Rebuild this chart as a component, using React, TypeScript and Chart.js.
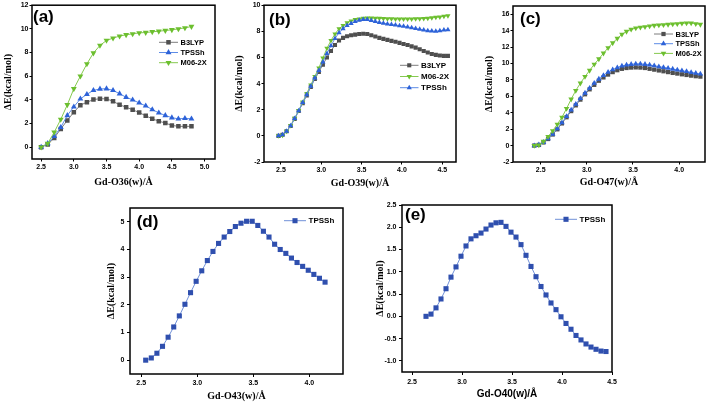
import React, { useEffect, useRef } from 'react';
import { Chart, registerables } from 'chart.js';
Chart.register(...registerables);

// ---------- DATA ----------
// (a) Gd-O36(w)
const xA = [2.5, 2.6, 2.7, 2.8, 2.9, 3.0, 3.1, 3.2, 3.3, 3.4, 3.5, 3.6, 3.7, 3.8, 3.9, 4.0, 4.1, 4.2, 4.3, 4.4, 4.5, 4.6, 4.7, 4.8];
const aB3LYP = [0, 0.22, 0.78, 1.54, 2.26, 2.96, 3.55, 3.8, 4.02, 4.1, 4.08, 3.88, 3.58, 3.38, 3.16, 2.93, 2.65, 2.4, 2.2, 2.04, 1.84, 1.76, 1.76, 1.76];
const aTPSSh = [0, 0.31, 0.92, 1.68, 2.68, 3.41, 4.08, 4.47, 4.8, 4.92, 4.94, 4.8, 4.52, 4.22, 4.0, 3.74, 3.49, 3.18, 2.9, 2.68, 2.49, 2.4, 2.43, 2.4];
const aM062X = [0, 0.31, 1.26, 2.35, 3.58, 4.94, 6.0, 7.04, 7.96, 8.6, 9.02, 9.22, 9.39, 9.5, 9.58, 9.66, 9.69, 9.75, 9.8, 9.86, 9.92, 10.0, 10.08, 10.2];
const aTicksX = [2.5, 3.0, 3.5, 4.0, 4.5, 5.0];
const aTicksY = [0, 2, 4, 6, 8, 10, 12];

// (b) Gd-O39(w)
const xB = [2.47, 2.52, 2.57, 2.62, 2.67, 2.72, 2.77, 2.82, 2.87, 2.92, 2.97, 3.02, 3.07, 3.12, 3.17, 3.22, 3.27, 3.32, 3.37, 3.42, 3.47, 3.52, 3.57, 3.62, 3.67, 3.72, 3.77, 3.82, 3.87, 3.92, 3.97, 4.02, 4.07, 4.12, 4.17, 4.22, 4.27, 4.32, 4.37, 4.42, 4.47, 4.52, 4.57];
const bB3LYP = [0, 0.08, 0.35, 0.75, 1.3, 1.9, 2.5, 3.1, 3.75, 4.35, 4.9, 5.45, 6.0, 6.5, 6.95, 7.3, 7.5, 7.62, 7.7, 7.75, 7.8, 7.82, 7.8, 7.7, 7.6, 7.5, 7.42, 7.35, 7.27, 7.2, 7.12, 7.03, 6.95, 6.85, 6.75, 6.63, 6.5, 6.38, 6.27, 6.2, 6.15, 6.12, 6.12];
const bM062X = [0, 0.05, 0.35, 0.8, 1.35, 1.95, 2.6, 3.25, 3.9, 4.55, 5.2, 5.95, 6.7, 7.3, 7.8, 8.2, 8.45, 8.65, 8.8, 8.9, 8.95, 9.0, 9.02, 9.02, 9.0, 9.0, 8.98, 8.97, 8.96, 8.95, 8.95, 8.95, 8.95, 8.95, 8.96, 8.97, 8.98, 9.0, 9.03, 9.07, 9.1, 9.15, 9.2];
const bTPSSh = [0, 0.08, 0.35, 0.78, 1.32, 1.92, 2.55, 3.15, 3.8, 4.42, 5.0, 5.65, 6.3, 6.9, 7.45, 7.9, 8.2, 8.45, 8.6, 8.75, 8.85, 8.9, 8.9, 8.82, 8.75, 8.68, 8.62, 8.57, 8.52, 8.48, 8.43, 8.38, 8.33, 8.28, 8.22, 8.15, 8.1, 8.05, 8.02, 8.0, 8.05, 8.1, 8.12];
const bTicksX = [2.5, 3.0, 3.5, 4.0, 4.5];
const bTicksY = [-2, 0, 2, 4, 6, 8, 10];

// (c) Gd-O47(w)
const xC = [2.43, 2.48, 2.53, 2.58, 2.63, 2.68, 2.73, 2.78, 2.83, 2.88, 2.93, 2.98, 3.03, 3.08, 3.13, 3.18, 3.23, 3.28, 3.33, 3.38, 3.43, 3.48, 3.53, 3.58, 3.63, 3.68, 3.73, 3.78, 3.83, 3.88, 3.93, 3.98, 4.03, 4.08, 4.13, 4.18, 4.23];
const cB3LYP = [0, 0.08, 0.38, 0.8, 1.35, 1.98, 2.7, 3.45, 4.2, 4.9, 5.6, 6.25, 6.85, 7.4, 7.9, 8.3, 8.65, 8.95, 9.18, 9.35, 9.45, 9.5, 9.52, 9.5, 9.45, 9.35, 9.25, 9.15, 9.05, 8.95, 8.85, 8.77, 8.68, 8.6, 8.52, 8.45, 8.4];
const cTPSSh = [0, 0.1, 0.4, 0.85, 1.4, 2.05, 2.8, 3.55, 4.35, 5.05, 5.75, 6.4, 7.0, 7.6, 8.1, 8.55, 8.95, 9.25, 9.5, 9.7, 9.82, 9.9, 9.95, 9.95, 9.9, 9.82, 9.72, 9.62, 9.52, 9.42, 9.32, 9.22, 9.12, 9.02, 8.92, 8.82, 8.72];
const cM062X = [0, 0.05, 0.5, 1.1, 1.8, 2.6, 3.45, 4.5, 5.65, 6.7, 7.6, 8.4, 9.15, 9.9, 10.55, 11.25, 11.9, 12.5, 13.05, 13.55, 13.9, 14.15, 14.3, 14.4, 14.47, 14.55, 14.63, 14.67, 14.7, 14.75, 14.8, 14.84, 14.88, 14.92, 14.92, 14.84, 14.75];
const cTicksX = [2.5, 3.0, 3.5, 4.0];
const cTicksY = [-2, 0, 2, 4, 6, 8, 10, 12, 14, 16];

// (d) Gd-O43(w)
const xD = [2.54, 2.59, 2.64, 2.69, 2.74, 2.79, 2.84, 2.89, 2.94, 2.99, 3.04, 3.09, 3.14, 3.19, 3.24, 3.29, 3.34, 3.39, 3.44, 3.49, 3.54, 3.59, 3.64, 3.69, 3.74, 3.79, 3.84, 3.89, 3.94, 3.99, 4.04, 4.09, 4.14];
const dTPSSh = [0, 0.08, 0.25, 0.5, 0.83, 1.2, 1.6, 2.02, 2.44, 2.85, 3.23, 3.6, 3.93, 4.22, 4.45, 4.65, 4.83, 4.95, 5.02, 5.02, 4.87, 4.66, 4.45, 4.19, 4.0, 3.86, 3.69, 3.53, 3.39, 3.25, 3.1, 2.96, 2.82];
const dTicksX = [2.5, 3.0, 3.5, 4.0];
const dTicksY = [0, 1, 2, 3, 4, 5];

// (e) Gd-O40(w)
const xE = [2.64, 2.69, 2.74, 2.79, 2.84, 2.89, 2.94, 2.99, 3.04, 3.09, 3.14, 3.19, 3.24, 3.29, 3.34, 3.39, 3.44, 3.49, 3.54, 3.59, 3.64, 3.69, 3.74, 3.79, 3.84, 3.89, 3.94, 3.99, 4.04, 4.09, 4.14, 4.19, 4.24, 4.29, 4.34, 4.39, 4.44];
const eTPSSh = [0, 0.05, 0.19, 0.39, 0.62, 0.88, 1.11, 1.35, 1.58, 1.74, 1.81, 1.87, 1.96, 2.05, 2.1, 2.11, 2.02, 1.89, 1.78, 1.61, 1.37, 1.12, 0.89, 0.67, 0.48, 0.3, 0.15, -0.01, -0.16, -0.29, -0.43, -0.53, -0.62, -0.69, -0.74, -0.78, -0.79];
const eTicksX = [2.5, 3.0, 3.5, 4.0, 4.5];
const eTicksY = [-1.0, -0.5, 0.0, 0.5, 1.0, 1.5, 2.0, 2.5];

// ---------- STYLES ----------
const SANS = 'Arial, "Liberation Sans", sans-serif';
const SERIF = '"Times New Roman", "Liberation Serif", serif';
const GRAY = { line: '#7d7d7d', fill: '#4f4f4f' };
const BLUE = { line: '#5d8ce6', fill: '#2d62d8' };
const GREEN = { line: '#86c94f', fill: '#6cbf2f' };
const DBLUE = { line: '#7090d8', fill: '#2f4fae' };

type Style = 'sq' | 'up' | 'down';
interface Ser { label: string; x: number[]; y: number[]; style: Style; c: { line: string; fill: string }; r: number }
interface Cfg {
  L: number; T: number; R: number; B: number; // plot area in page coords
  ml: number; mt: number; mr: number; mb: number;
  xmin: number; xmax: number; ymin: number; ymax: number;
  xt: number[]; yt: number[]; xdec: number; ydec: number;
  xtitle: string; xtitleFont: string; ytitlePad: number; xtitlePad: number;
  tl: number; ytPad: number; xtPad: number;
  series: Ser[];
  tag: string; tagX: number; tagY: number;
  legX: number; legY: number; legDy: number; legLen: number; legFont: number;
}

function drawMarker(ctx: CanvasRenderingContext2D, style: Style, x: number, y: number, r: number, color: string) {
  ctx.save();
  ctx.fillStyle = color;
  ctx.beginPath();
  if (style === 'sq') {
    const s = r * Math.SQRT1_2;
    ctx.rect(x - s, y - s, 2 * s, 2 * s);
  } else {
    let a = style === 'down' ? Math.PI : 0;
    for (let k = 0; k < 3; k++) {
      const px = x + Math.sin(a) * r;
      const py = y - Math.cos(a) * r;
      if (k === 0) ctx.moveTo(px, py); else ctx.lineTo(px, py);
      a += (2 * Math.PI) / 3;
    }
    ctx.closePath();
  }
  ctx.fill();
  ctx.restore();
}

function Panel({ cfg }: { cfg: Cfg }) {
  const ref = useRef<HTMLCanvasElement>(null);
  const cl = cfg.L - cfg.ml;
  const ct = cfg.T - cfg.mt;
  const w = cfg.R - cfg.L + cfg.ml + cfg.mr;
  const h = cfg.B - cfg.T + cfg.mt + cfg.mb;
  useEffect(() => {
    const c = cfg;
    const n = c.series.length;
    const overlay = {
      id: 'overlay',
      afterDraw(chart: any) {
        const ctx: CanvasRenderingContext2D = chart.ctx;
        const a = chart.chartArea;
        ctx.save();
        ctx.strokeStyle = '#000';
        ctx.lineWidth = 1.5;
        ctx.strokeRect(a.left, a.top, a.right - a.left, a.bottom - a.top);
        // panel tag
        ctx.fillStyle = '#000';
        ctx.font = `bold 17px ${SANS}`;
        ctx.textAlign = 'left';
        ctx.textBaseline = 'middle';
        ctx.fillText(c.tag, c.tagX - cl, c.tagY - ct);
        // legend
        ctx.font = `bold ${c.legFont}px ${SANS}`;
        c.series.forEach((s, i) => {
          const y = c.legY - ct + i * c.legDy;
          const x0 = c.legX - cl;
          ctx.strokeStyle = s.c.line;
          ctx.lineWidth = 1;
          ctx.beginPath();
          ctx.moveTo(x0, y);
          ctx.lineTo(x0 + c.legLen, y);
          ctx.stroke();
          drawMarker(ctx, s.style, x0 + c.legLen / 2, y, s.r, s.c.fill);
          ctx.fillStyle = '#000';
          ctx.fillText(s.label, x0 + c.legLen + 2.5, y + 0.5);
        });
        ctx.restore();
      },
    };
    const chart = new Chart(ref.current!, {
      type: 'line',
      data: {
        datasets: c.series.map((s, i) => ({
          label: s.label,
          data: s.x.map((x, k) => ({ x, y: s.y[k] })),
          borderColor: s.c.line,
          borderWidth: 1,
          backgroundColor: s.c.fill,
          pointBackgroundColor: s.c.fill,
          pointBorderColor: s.c.fill,
          pointBorderWidth: 0,
          pointStyle: s.style === 'sq' ? 'rect' : 'triangle',
          pointRotation: s.style === 'down' ? 180 : 0,
          pointRadius: s.r,
          tension: 0,
          order: n - i,
        })),
      },
      options: {
        responsive: false,
        maintainAspectRatio: false,
        animation: false,
        events: [],
        layout: { padding: { top: c.mt, right: c.mr, left: 0, bottom: 0 } },
        plugins: { legend: { display: false }, tooltip: { enabled: false } },
        scales: {
          x: {
            type: 'linear',
            min: c.xmin,
            max: c.xmax,
            afterFit: (s: any) => { s.height = c.mb; },
            afterBuildTicks: (s: any) => { s.ticks = c.xt.map((v) => ({ value: v })); },
            ticks: {
              autoSkip: false, maxRotation: 0, color: '#000', padding: c.xtPad,
              font: { family: SANS, weight: 'bold', size: 7 },
              callback: (v: any) => Number(v).toFixed(c.xdec),
            },
            grid: { display: true, drawOnChartArea: false, drawTicks: true, tickLength: c.tl, tickColor: '#000', tickWidth: 1 },
            border: { display: false },
            title: { display: true, text: c.xtitle, color: '#000', padding: { top: 0, bottom: c.xtitlePad }, font: { family: c.xtitleFont, weight: 'bold', size: 10 } },
          },
          y: {
            type: 'linear',
            min: c.ymin,
            max: c.ymax,
            afterFit: (s: any) => { s.width = c.ml; },
            afterBuildTicks: (s: any) => { s.ticks = c.yt.map((v) => ({ value: v })); },
            ticks: {
              autoSkip: false, color: '#000', padding: c.ytPad,
              font: { family: SANS, weight: 'bold', size: 7 },
              callback: (v: any) => Number(v).toFixed(c.ydec),
            },
            grid: { display: true, drawOnChartArea: false, drawTicks: true, tickLength: c.tl, tickColor: '#000', tickWidth: 1 },
            border: { display: false },
            title: { display: true, text: 'ΔE(kcal/mol)', color: '#000', padding: { top: c.ytitlePad, bottom: 0 }, font: { family: SERIF, weight: 'bold', size: 10 } },
          },
        },
      } as any,
      plugins: [overlay],
    });
    return () => chart.destroy();
  }, []);
  return (
    <canvas
      ref={ref}
      width={w}
      height={h}
      style={{ position: 'absolute', left: cl, top: ct, width: w, height: h }}
    />
  );
}

const panels: Cfg[] = [
  {
    L: 32, T: 4, R: 215, B: 159, ml: 32, mt: 4, mr: 6, mb: 30,
    xmin: 2.36, xmax: 5.16, ymin: -1, ymax: 12, xt: aTicksX, yt: aTicksY, xdec: 1, ydec: 0,
    xtitle: 'Gd-O36(w)/Å', xtitleFont: SERIF, ytitlePad: 2.5, xtitlePad: 0.5,
    tl: 2.5, ytPad: 1, xtPad: 1,
    series: [
      { label: 'B3LYP', x: xA, y: aB3LYP, style: 'sq', c: GRAY, r: 3.2 },
      { label: 'TPSSh', x: xA, y: aTPSSh, style: 'up', c: BLUE, r: 3.4 },
      { label: 'M06-2X', x: xA, y: aM062X, style: 'down', c: GREEN, r: 3.4 },
    ],
    tag: '(a)', tagX: 33, tagY: 17, legX: 159, legY: 42.3, legDy: 10.2, legLen: 19, legFont: 7.5,
  },
  {
    L: 264, T: 5, R: 456, B: 162, ml: 33, mt: 5, mr: 6, mb: 30,
    xmin: 2.29, xmax: 4.67, ymin: -2, ymax: 10, xt: bTicksX, yt: bTicksY, xdec: 1, ydec: 0,
    xtitle: 'Gd-O39(w)/Å', xtitleFont: SERIF, ytitlePad: 2, xtitlePad: 2.7,
    tl: 2.5, ytPad: 1, xtPad: 1.5,
    series: [
      { label: 'B3LYP', x: xB, y: bB3LYP, style: 'sq', c: GRAY, r: 2.9 },
      { label: 'M06-2X', x: xB, y: bM062X, style: 'down', c: GREEN, r: 3 },
      { label: 'TPSSh', x: xB, y: bTPSSh, style: 'up', c: BLUE, r: 3 },
    ],
    tag: '(b)', tagX: 269, tagY: 20, legX: 400, legY: 65.3, legDy: 11.2, legLen: 18.5, legFont: 8,
  },
  {
    L: 513, T: 6, R: 705, B: 162, ml: 32, mt: 6, mr: 4, mb: 30,
    xmin: 2.2, xmax: 4.28, ymin: -2, ymax: 17, xt: cTicksX, yt: cTicksY, xdec: 1, ydec: 0,
    xtitle: 'Gd-O47(w)/Å', xtitleFont: SERIF, ytitlePad: 2.7, xtitlePad: 3.3,
    tl: 2.5, ytPad: 1, xtPad: 1.5,
    series: [
      { label: 'B3LYP', x: xC, y: cB3LYP, style: 'sq', c: GRAY, r: 3 },
      { label: 'TPSSh', x: xC, y: cTPSSh, style: 'up', c: BLUE, r: 3.2 },
      { label: 'M06-2X', x: xC, y: cM062X, style: 'down', c: GREEN, r: 3.2 },
    ],
    tag: '(c)', tagX: 520, tagY: 19.2, legX: 654, legY: 34, legDy: 9.7, legLen: 19, legFont: 7.5,
  },
  {
    L: 130, T: 208, R: 343, B: 374, ml: 26, mt: 8, mr: 6, mb: 30,
    xmin: 2.4, xmax: 4.3, ymin: -0.5, ymax: 5.5, xt: dTicksX, yt: dTicksY, xdec: 1, ydec: 0,
    xtitle: 'Gd-O43(w)/Å', xtitleFont: SERIF, ytitlePad: 1.7, xtitlePad: 1.3,
    tl: 3, ytPad: 2.5, xtPad: 1.5,
    series: [
      { label: 'TPSSh', x: xD, y: dTPSSh, style: 'sq', c: DBLUE, r: 3.6 },
    ],
    tag: '(d)', tagX: 136.7, tagY: 222.5, legX: 284, legY: 220.7, legDy: 10, legLen: 22, legFont: 8,
  },
  {
    L: 402, T: 205, R: 612, B: 372, ml: 30, mt: 8, mr: 8, mb: 30,
    xmin: 2.4, xmax: 4.5, ymin: -1.25, ymax: 2.5, xt: eTicksX, yt: eTicksY, xdec: 1, ydec: 1,
    xtitle: 'Gd-O40(w)/Å', xtitleFont: SANS, ytitlePad: 2, xtitlePad: 2,
    tl: 3, ytPad: 2.5, xtPad: 2.5,
    series: [
      { label: 'TPSSh', x: xE, y: eTPSSh, style: 'sq', c: DBLUE, r: 3.6 },
    ],
    tag: '(e)', tagX: 405, tagY: 215, legX: 555, legY: 219.3, legDy: 10, legLen: 22, legFont: 8,
  },
];

export default function App() {
  return (
    <div style={{ position: 'fixed', left: 0, top: 0, width: 709, height: 404, background: '#fff', overflow: 'hidden' }}>
      {panels.map((p, i) => (
        <Panel key={i} cfg={p} />
      ))}
    </div>
  );
}
